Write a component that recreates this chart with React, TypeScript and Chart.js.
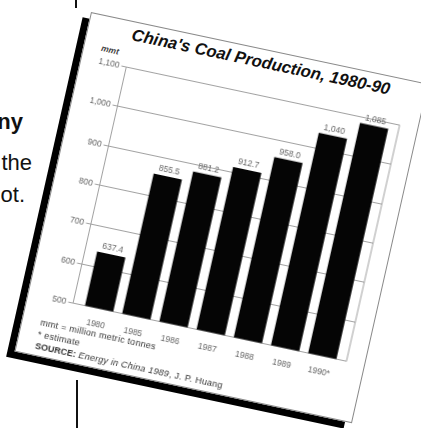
import React, { useEffect, useRef } from "react";
import { Chart, registerables } from "chart.js";

Chart.register(...registerables);

// ---- data ----
const years = ["1980", "1985", "1986", "1987", "1988", "1989", "1990*"];
const production = [637.4, 855.5, 881.2, 912.7, 958.0, 1040, 1085];
const valueLabels = ["637.4", "855.5", "881.2", "912.7", "958.0", "1,040", "1,085"];
const yTicks = [500, 600, 700, 800, 900, 1000, 1100];
const yTickLabels = ["500", "600", "700", "800", "900", "1,000", "1,100"];

const titleText = "China's Coal Production, 1980-90";
const unitText = "mmt";
const footnoteLines = ["mmt = million metric tonnes", "* estimate"];
const sourceLabel = "SOURCE:";
const sourceTitle = "Energy in China 1989";
const sourceAuthor = ", J. P. Huang";
const pageLines = ["ny", "the", "ot."];

// ---- styles ----
const SANS = "'Liberation Sans', Arial, Helvetica, sans-serif";
const frameColor = "#8a8a8a";
const tickColor = "#666666";

const valueLabelPlugin = {
  id: "valueLabels",
  afterDatasetsDraw(chart: any) {
    const ctx = chart.ctx;
    const meta = chart.getDatasetMeta(0);
    ctx.save();
    ctx.font = `8.5px ${SANS}`;
    ctx.fillStyle = tickColor;
    ctx.textAlign = "center";
    ctx.textBaseline = "bottom";
    meta.data.forEach((el: any, i: number) => {
      ctx.fillText(valueLabels[i], el.x, el.y - 2);
    });
    ctx.restore();
  },
};

const framePlugin = {
  id: "rightFrame",
  beforeDatasetsDraw(chart: any) {
    const { ctx, chartArea } = chart;
    ctx.save();
    ctx.strokeStyle = frameColor;
    ctx.lineWidth = 0.8;
    ctx.beginPath();
    ctx.moveTo(chartArea.right, chartArea.top);
    ctx.lineTo(chartArea.right, chartArea.bottom);
    ctx.stroke();
    ctx.restore();
  },
};

function CoalChart() {
  const ref = useRef<HTMLCanvasElement | null>(null);
  useEffect(() => {
    if (!ref.current) return;
    const chart = new Chart(ref.current, {
      type: "bar",
      data: {
        datasets: [
          {
            data: production.map((y, i) => ({ x: i, y })),
            backgroundColor: "#050505",
            borderWidth: 0,
            barPercentage: 0.76,
            categoryPercentage: 1,
          },
        ],
      },
      options: {
        responsive: false,
        animation: false,
        layout: { padding: { top: 46.5, right: 19, left: 0, bottom: 0 } },
        plugins: {
          legend: { display: false },
          tooltip: { enabled: false },
        },
        scales: {
          x: {
            type: "linear",
            min: -0.7,
            max: 6.65,
            offset: false,
            afterBuildTicks: (axis: any) => {
              axis.ticks = years.map((_, i) => ({ value: i }));
            },
            afterFit: (axis: any) => {
              axis.height = 21.5;
            },
            grid: { display: false },
            border: { display: false },
            ticks: {
              autoSkip: false,
              maxRotation: 0,
              padding: 3,
              color: tickColor,
              font: { family: SANS, size: 8.5 },
              callback: (v: any) => years[Number(v)] ?? "",
            },
          },
          y: {
            type: "linear",
            min: 500,
            max: 1100,
            afterBuildTicks: (axis: any) => {
              axis.ticks = yTicks.map((v) => ({ value: v }));
            },
            afterFit: (axis: any) => {
              axis.width = 46.5;
            },
            grid: { color: frameColor, lineWidth: 0.8, tickLength: 5, drawTicks: true },
            border: { color: frameColor, width: 0.8 },
            ticks: {
              padding: 2,
              color: tickColor,
              font: { family: SANS, size: 8.5 },
              callback: (v: any) => yTickLabels[yTicks.indexOf(Number(v))] ?? "",
            },
          },
        },
      } as any,
      plugins: [framePlugin, valueLabelPlugin],
    });
    return () => chart.destroy();
  }, []);
  return (
    <canvas
      ref={ref}
      width={345}
      height={310}
      style={{ position: "absolute", left: 0, top: 0, display: "block" }}
    />
  );
}

export default function App() {
  const pageLineStyle = (endX: number, baseline: number, bold: boolean): React.CSSProperties => ({
    position: "absolute",
    right: 421 - endX,
    top: baseline - 18.6,
    fontFamily: SANS,
    fontSize: 22,
    lineHeight: "22px",
    fontWeight: bold ? 700 : 400,
    whiteSpace: "nowrap",
    color: "#111",
  });
  return (
    <div
      style={{
        position: "absolute",
        left: 0,
        top: 0,
        width: 421,
        height: 428,
        overflow: "hidden",
        background: "#fff",
      }}
    >
      <div style={pageLineStyle(23, 130, true)}>{pageLines[0]}</div>
      <div style={pageLineStyle(32, 171, false)}>{pageLines[1]}</div>
      <div style={pageLineStyle(25, 203, false)}>{pageLines[2]}</div>
      <div style={{ position: "absolute", left: 75, top: 0, width: 1.5, height: 8, background: "#111" }} />
      <div style={{ position: "absolute", left: 76, top: 380, width: 1.5, height: 48, background: "#111" }} />

      <div
        style={{
          position: "absolute",
          left: 0,
          top: 0,
          width: 345,
          height: 348,
          background: "#fff",
          boxShadow: "-7px 7px 0 0 #000",
          transform: "matrix(0.9781, 0.2079, -0.2198, 0.9755, 91, 12)",
          transformOrigin: "0 0",
        }}
      >
        <div
          style={{
            position: "absolute",
            inset: 0,
            border: "1px solid #8a8a8a",
            boxSizing: "border-box",
          }}
        />
        <div
          style={{
            position: "absolute",
            left: 45,
            top: 6.4,
            fontFamily: SANS,
            fontSize: 16.7,
            lineHeight: "16.7px",
            fontWeight: 700,
            fontStyle: "italic",
            whiteSpace: "nowrap",
            color: "#111",
          }}
        >
          {titleText}
        </div>
        <div
          style={{
            position: "absolute",
            left: 18,
            top: 29,
            fontFamily: SANS,
            fontSize: 8.5,
            lineHeight: "9px",
            fontWeight: 700,
            fontStyle: "italic",
            color: "#444",
          }}
        >
          {unitText}
        </div>
        <CoalChart />
        <div
          style={{
            position: "absolute",
            left: 19,
            top: 308,
            fontFamily: SANS,
            fontSize: 9,
            lineHeight: "12px",
            letterSpacing: 0.3,
            color: "#333",
            whiteSpace: "nowrap",
          }}
        >
          <div>{footnoteLines[0]}</div>
          <div>{footnoteLines[1]}</div>
          <div>
            <span style={{ fontWeight: 700, letterSpacing: 0 }}>{sourceLabel}</span>{" "}
            <span style={{ fontStyle: "italic" }}>{sourceTitle}</span>
            <span>{sourceAuthor}</span>
          </div>
        </div>
      </div>
    </div>
  );
}
